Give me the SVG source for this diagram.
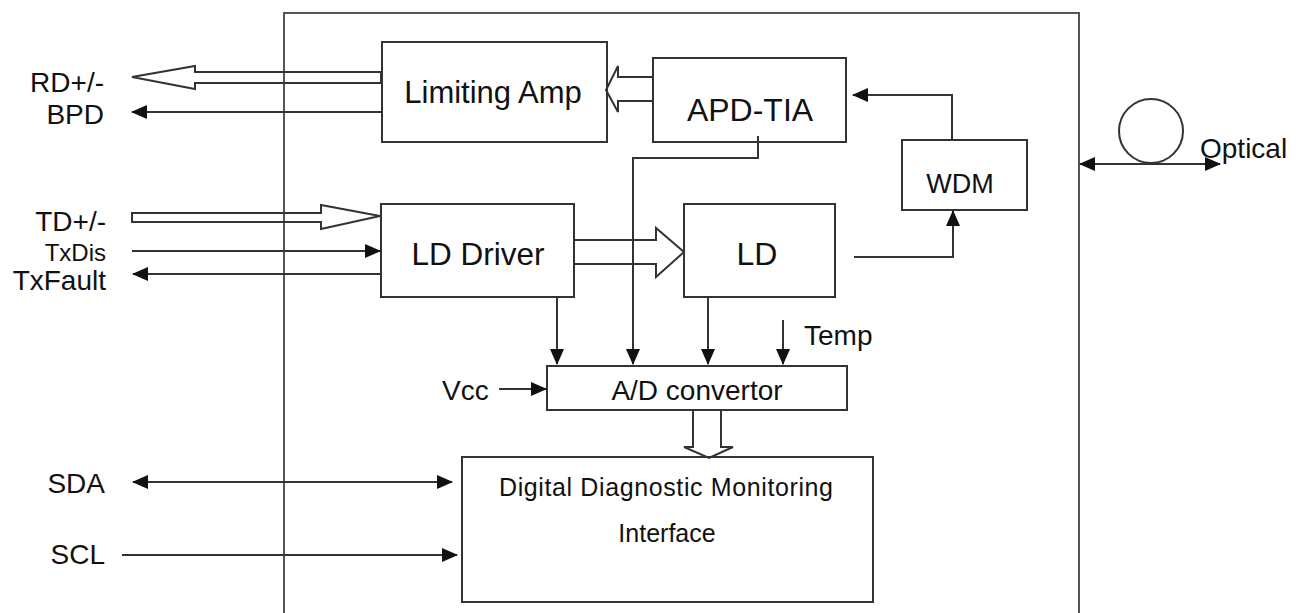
<svg xmlns="http://www.w3.org/2000/svg" width="1307" height="613" viewBox="0 0 1307 613">
<defs>
<marker id="ah" markerUnits="userSpaceOnUse" markerWidth="16" markerHeight="14" refX="15" refY="7" orient="auto-start-reverse" viewBox="0 0 16 14">
<path d="M0,0 L16,7 L0,14 z" fill="#111"/>
</marker>
<style>
.box{fill:#fff;stroke:#333;stroke-width:2}
.ln{fill:none;stroke:#333;stroke-width:2}
.hol{fill:none;stroke:#333;stroke-width:2;stroke-linejoin:miter}
.frame{fill:none;stroke:#555;stroke-width:2}
text{font-family:"Liberation Sans",Arial,sans-serif;fill:#111}
.t32{font-size:32px}
.t28{font-size:28px}
</style>
</defs>
<rect width="1307" height="613" fill="#fff"/>
<path class="frame" d="M284,613 L284,13 L1079,13 L1079,613"/>

<g id="limiting-amp"><rect class="box" x="382" y="42" width="225" height="100"/><text x="493" y="103" text-anchor="middle" style="font-size:31px">Limiting Amp</text></g>
<g id="apd-tia"><rect class="box" x="653" y="58" width="193" height="84"/><text class="t32" x="750" y="121" text-anchor="middle">APD-TIA</text></g>
<g id="wdm"><rect class="box" x="902" y="140" width="125" height="70"/><text x="960" y="193" text-anchor="middle" style="font-size:27px">WDM</text></g>
<g id="ld-driver"><rect class="box" x="381" y="204" width="193" height="93"/><text x="478" y="265" text-anchor="middle" style="font-size:31.5px">LD Driver</text></g>
<g id="ld"><rect class="box" x="684" y="204" width="151" height="93"/><text class="t32" x="757" y="265" text-anchor="middle">LD</text></g>
<g id="ad-convertor"><rect class="box" x="547" y="366" width="300" height="44"/><text class="t28" x="697" y="400" text-anchor="middle">A/D convertor</text></g>
<g id="ddm"><rect class="box" x="462" y="457" width="411" height="145"/><text x="666" y="496" text-anchor="middle" style="font-size:25px" textLength="334">Digital Diagnostic Monitoring</text><text x="667" y="542" text-anchor="middle" style="font-size:25px">Interface</text></g>
<g id="fiber"><circle cx="1151" cy="131" r="32" fill="none" stroke="#333" stroke-width="2"/></g>

<g id="labels">
<text class="t28" x="104" y="92" text-anchor="end">RD+/-</text>
<text class="t28" x="104" y="124" text-anchor="end">BPD</text>
<text class="t28" x="106" y="231" text-anchor="end">TD+/-</text>
<text x="106" y="261" text-anchor="end" style="font-size:24px">TxDis</text>
<text class="t28" x="106" y="290" text-anchor="end">TxFault</text>
<text class="t28" x="105" y="493" text-anchor="end">SDA</text>
<text class="t28" x="105" y="564" text-anchor="end">SCL</text>
<text class="t28" x="442" y="400">Vcc</text>
<text class="t28" x="804" y="345">Temp</text>
<text class="t28" x="1200" y="158">Optical</text>
</g>

<g id="connectors">
<polygon class="hol" points="381,72 195,72 195,66 132,77 195,89 195,83 381,83"/>
<polygon class="hol" points="132,213 321,213 321,205 380,216 321,229 321,222 132,222"/>
<polygon class="hol" points="653,77 618,77 618,66 606,90 618,112 618,101 653,101"/>
<polygon class="hol" points="574,240 656,240 656,228 684,252 656,277 656,264 574,264"/>
<polygon class="hol" points="693,410 693,447 684,447 709,458 733,447 721,447 721,410"/>
<line class="ln" x1="381" y1="112" x2="132" y2="112" marker-end="url(#ah)"/>
<line class="ln" x1="132" y1="251" x2="380" y2="251" marker-end="url(#ah)"/>
<line class="ln" x1="381" y1="274" x2="133" y2="274" marker-end="url(#ah)"/>
<line class="ln" x1="133" y1="482" x2="452" y2="482" marker-start="url(#ah)" marker-end="url(#ah)"/>
<line class="ln" x1="122" y1="555" x2="457" y2="555" marker-end="url(#ah)"/>
<line class="ln" x1="499" y1="389" x2="546" y2="389" marker-end="url(#ah)"/>
<line class="ln" x1="1080" y1="164" x2="1220" y2="164" marker-start="url(#ah)" marker-end="url(#ah)"/>
<polyline class="ln" points="758,136 758,158 633,158 633,364" marker-end="url(#ah)"/>
<line class="ln" x1="557" y1="297" x2="557" y2="364" marker-end="url(#ah)"/>
<line class="ln" x1="708" y1="297" x2="708" y2="364" marker-end="url(#ah)"/>
<line class="ln" x1="783" y1="320" x2="783" y2="364" marker-end="url(#ah)"/>
<polyline class="ln" points="854,257 953,257 953,211" marker-end="url(#ah)"/>
<polyline class="ln" points="952,140 952,95 853,95" marker-end="url(#ah)"/>
</g>
</svg>
